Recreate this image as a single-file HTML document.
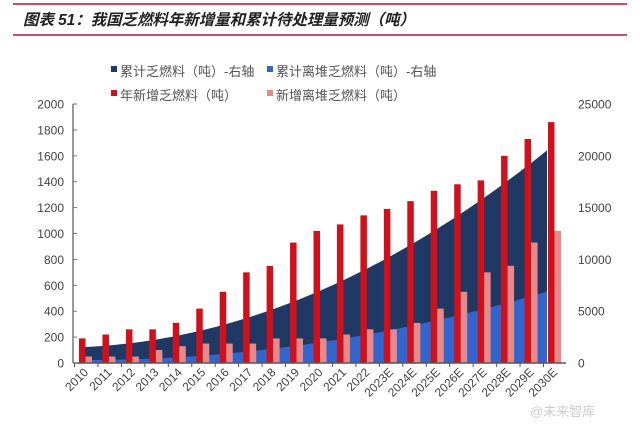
<!DOCTYPE html>
<html><head><meta charset="utf-8"><style>
body{margin:0;background:#fff;width:640px;height:432px;overflow:hidden;font-family:"Liberation Sans","Noto Sans CJK SC",sans-serif}
</style></head><body>
<svg id="s" width="640" height="432" xmlns="http://www.w3.org/2000/svg" font-family="Liberation Sans, Noto Sans CJK SC, sans-serif">
<line x1="13" y1="4" x2="627" y2="4" stroke="#b5153a" stroke-width="1.5"/>
<line x1="13" y1="35" x2="627" y2="35" stroke="#b5153a" stroke-width="1.5"/>
<text x="23" y="25" font-size="15.5" font-weight="bold" font-style="italic" fill="#222" textLength="392">图表 51：我国乏燃料年新增量和累计待处理量预测（吨）</text>
<rect x="111" y="66" width="6" height="6" fill="#1f3864"/><text x="120" y="76" font-size="13" fill="#555">累计乏燃料（吨）-右轴</text>
<rect x="267" y="66" width="6" height="6" fill="#3366cc"/><text x="276" y="76" font-size="13" fill="#555">累计离堆乏燃料（吨）-右轴</text>
<rect x="111" y="90" width="6" height="6" fill="#d0101a"/><text x="120" y="100" font-size="13" fill="#555">年新增乏燃料（吨）</text>
<rect x="267" y="90" width="6" height="6" fill="#e98a8a"/><text x="276" y="100" font-size="13" fill="#555">新增离堆乏燃料（吨）</text>
<g id="g"></g>
<text x="530" y="416" font-size="13" fill="#ccc">@未来智库</text>
</svg>
<script>
var g=document.getElementById('g'),h='';
var red=[190,220,260,260,310,420,550,700,750,930,1020,1070,1140,1190,1250,1330,1380,1410,1600,1730,1860];
var pink=[50,50,50,100,130,150,150,150,190,190,190,220,260,260,310,420,550,700,750,930,1020];
var yl=function(v){return 363-v*0.1295};var yr=function(v){return 363-v*259/25000};
var lab=['2010','2011','2012','2013','2014','2015','2016','2017','2018','2019','2020','2021','2022','2023E','2024E','2025E','2026E','2027E','2028E','2029E','2030E'];
var d='M85,363',b='M85,363';
for(var t=0;t<=20;t+=0.25){var x=85+t*23.1;d+=' L'+x+','+yr(1540+105*t+42.2*t*t);b+=' L'+x+','+yr(290+16.5*t*t);}
d+=' L547,363Z';b+=' L547,363Z';
h+='<path d="'+d+'" fill="#1f3864"/><path d="'+b+'" fill="#3366cc"/>';
for(var i=0;i<21;i++){var x=79+i*23.45;
h+='<rect x="'+x+'" y="'+yl(red[i])+'" width="6.5" height="'+(363-yl(red[i]))+'" fill="#d0101a"/>';
h+='<rect x="'+(x+6.5)+'" y="'+yl(pink[i])+'" width="6.5" height="'+(363-yl(pink[i]))+'" fill="#e98a8a"/>';
h+='<line x1="'+(x-4.5)+'" y1="363" x2="'+(x-4.5)+'" y2="367" stroke="#555"/>';
h+='<text transform="translate('+(x+10)+',373) rotate(-45)" text-anchor="end" font-size="12" fill="#444">'+lab[i]+'</text>';}
h+='<line x1="73" y1="104" x2="73" y2="363" stroke="#777" stroke-width="1.5"/><line x1="73" y1="363" x2="566" y2="363" stroke="#555" stroke-width="1.5"/>';
for(var v=0;v<=2000;v+=200){var y=yl(v);h+='<line x1="73" y1="'+y+'" x2="77" y2="'+y+'" stroke="#777"/><text x="64" y="'+(y+4.5)+'" text-anchor="end" font-size="12" fill="#444">'+v+'</text>';}
for(var v=0;v<=25000;v+=5000){var y=yr(v);h+='<text x="578" y="'+(y+4.5)+'" font-size="12" fill="#444">'+v+'</text>';}
g.innerHTML=h;
</script>
</body></html>
